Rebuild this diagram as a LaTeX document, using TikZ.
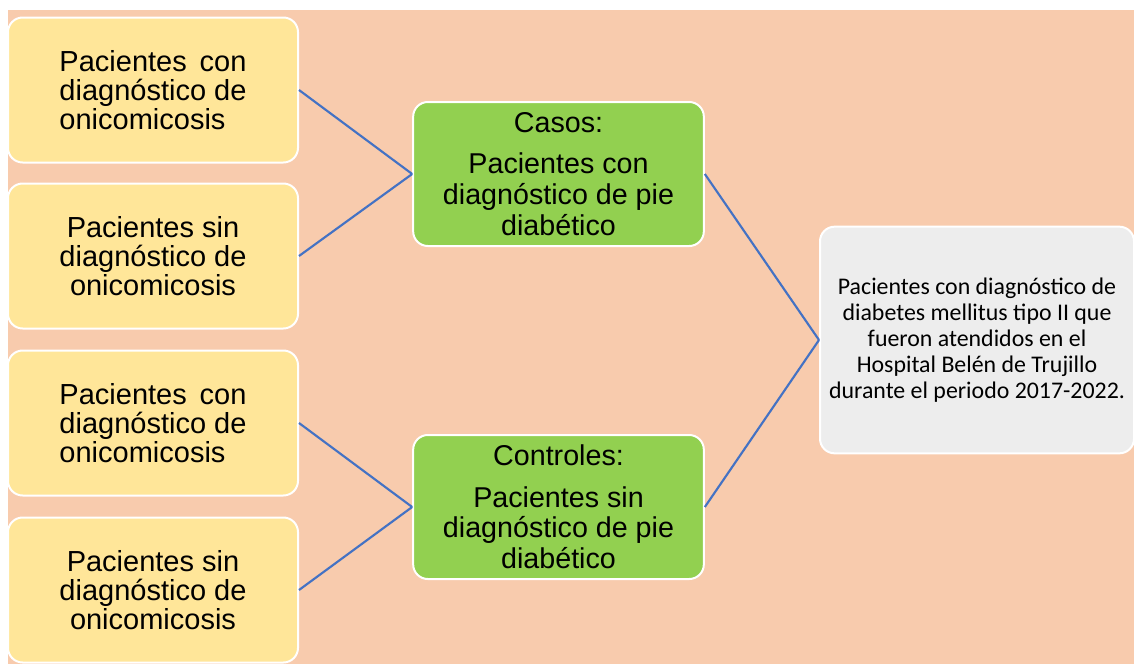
\documentclass[tikz,border=0pt]{standalone}
\usepackage{fontspec}
\setmainfont{Liberation Sans}
\newfontfamily\calibri{Carlito}
\usetikzlibrary{positioning}
\definecolor{fondo}{HTML}{F8CBAD}
\definecolor{amarillo}{HTML}{FFE699}
\definecolor{verde}{HTML}{92D050}
\definecolor{gris}{HTML}{EDEDED}
\definecolor{linea}{HTML}{4472C4}
\newlength{\anchoref}
\newcommand*{\estirar}[2]{\settowidth{\anchoref}{#2}\makebox[\anchoref][s]{#1}}

\begin{document}
\begin{tikzpicture}[x=0.75pt, y=-0.75pt,
  caja/.style = {draw=white, line width=1.5pt, rounded corners=11pt,
    inner sep=0pt, align=center},
  amarilla/.style = {caja, fill=amarillo, minimum width=217.5pt,
    minimum height=108.75pt, font=\fontsize{21.75}{21.75}\selectfont},
  verdecaja/.style = {caja, fill=verde, minimum width=218pt,
    minimum height=108pt, font=\fontsize{21.5}{23}\selectfont},
  grisecaja/.style = {caja, fill=gris, minimum width=235.5pt,
    minimum height=170pt, font=\calibri\fontsize{17.9}{19.6}\selectfont},
  enlace/.style = {draw=linea, line width=1.6pt}
  ]
  \useasboundingbox (0,0) rectangle (1134,664);
  \fill[fondo] (8,10) rectangle (1134,664);

  % primera columna
  \node[amarilla, align=left] (con1) at (153,90)
    {\estirar{Pacientes con}{diagnóstico de}\\diagnóstico de\\onicomicosis};
  \node[amarilla] (sin1) at (153,256)
    {Pacientes sin\\diagnóstico de\\onicomicosis};
  \node[amarilla, align=left] (con2) at (153,423)
    {\estirar{Pacientes con}{diagnóstico de}\\diagnóstico de\\onicomicosis};
  \node[amarilla] (sin2) at (153,590)
    {Pacientes sin\\diagnóstico de\\onicomicosis};

  % casos y controles
  \node[verdecaja] (casos) at (558.5,174)
    {Casos:\\[8pt]Pacientes con\\diagnóstico de pie\\diabético};
  \node[verdecaja] (controles) at (558.5,507)
    {Controles:\\[8pt]Pacientes sin\\diagnóstico de pie\\diabético};

  % poblacion
  \node[grisecaja] (poblacion) at (977,340)
    {Pacientes con diagnóstico de\\diabetes mellitus tipo II que\\fueron atendidos en el\\Hospital Belén de Trujillo\\durante el periodo 2017-2022.};

  \draw[enlace] (con1.east) -- (casos.west);
  \draw[enlace] (sin1.east) -- (casos.west);
  \draw[enlace] (con2.east) -- (controles.west);
  \draw[enlace] (sin2.east) -- (controles.west);
  \draw[enlace] (casos.east) -- (poblacion.west);
  \draw[enlace] (controles.east) -- (poblacion.west);
\end{tikzpicture}
\end{document}
